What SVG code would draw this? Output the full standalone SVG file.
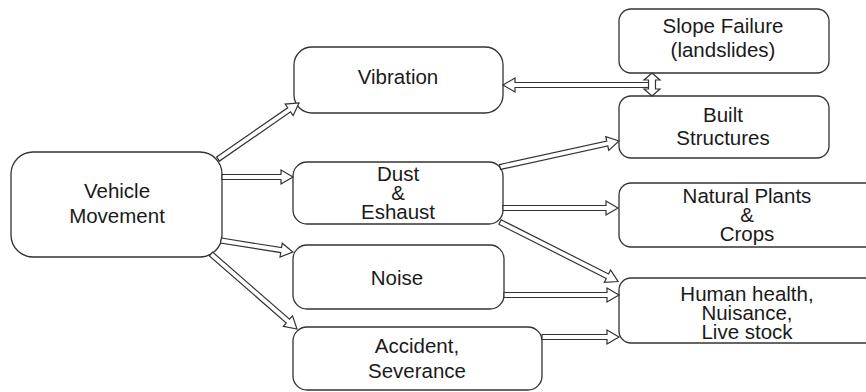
<svg xmlns="http://www.w3.org/2000/svg" width="866" height="392" viewBox="0 0 866 392">
<style>
.box{fill:#fff;stroke:#333;stroke-width:1.3}
.t{font-family:"Liberation Sans",Arial,sans-serif;font-size:20.5px;fill:#1a1a1a;text-anchor:middle}
.ar{fill:#fff;stroke:#333;stroke-width:1.2;stroke-linejoin:miter}
</style>
<rect width="866" height="392" fill="#fff"/>
<g id="n-vehicle"><rect class="box" x="11" y="152" width="211" height="105" rx="22"/><text class="t" x="117" y="198">Vehicle</text><text class="t" x="117" y="223">Movement</text></g>
<g id="n-vibration"><rect class="box" x="294" y="47" width="209" height="66" rx="18"/><text class="t" x="398" y="84">Vibration</text></g>
<g id="n-dust"><rect class="box" x="293" y="162" width="210" height="62" rx="14"/><text class="t" x="398" y="181">Dust</text><text class="t" x="398" y="200">&amp;</text><text class="t" x="398" y="219">Eshaust</text></g>
<g id="n-noise"><rect class="box" x="293" y="245" width="211" height="64" rx="14"/><text class="t" x="397" y="285">Noise</text></g>
<g id="n-accident"><rect class="box" x="293" y="327" width="249" height="63" rx="14"/><text class="t" x="417" y="353">Accident,</text><text class="t" x="417" y="378">Severance</text></g>
<g id="n-slope"><rect class="box" x="619" y="9" width="210" height="64" rx="12"/><text class="t" x="723" y="33">Slope Failure</text><text class="t" x="723" y="57">(landslides)</text></g>
<g id="n-built"><rect class="box" x="619" y="96" width="210" height="62" rx="12"/><text class="t" x="723" y="122">Built</text><text class="t" x="723" y="145">Structures</text></g>
<g id="n-plants"><rect class="box" x="619" y="183" width="260" height="64" rx="12"/><text class="t" x="747" y="203">Natural Plants</text><text class="t" x="747" y="222">&amp;</text><text class="t" x="747" y="241">Crops</text></g>
<g id="n-human"><rect class="box" x="619" y="278" width="260" height="65" rx="12"/><text class="t" x="747" y="301">Human health,</text><text class="t" x="747" y="320">Nuisance,</text><text class="t" x="747" y="339">Live stock</text></g>
<g id="connectors">
<path class="ar" transform="translate(218,159) rotate(-34.66)" d="M0,-2.5 H86.5 V-7 L98.5,0 L86.5,7 V2.5 H0 Z"/>
<path class="ar" transform="translate(222,177)" d="M0,-2.5 H59 V-7 L71,0 L59,7 V2.5 H0 Z"/>
<path class="ar" transform="translate(221,240.5) rotate(9.07)" d="M0,-2.5 H60.9 V-7 L72.9,0 L60.9,7 V2.5 H0 Z"/>
<path class="ar" transform="translate(211,254) rotate(41.1)" d="M0,-2.5 H102.1 V-7 L114.1,0 L102.1,7 V2.5 H0 Z"/>
<path class="ar" transform="translate(500,167) rotate(-12.32)" d="M0,-2.5 H109.8 V-7 L121.8,0 L109.8,7 V2.5 H0 Z"/>
<path class="ar" transform="translate(503,208)" d="M0,-2.5 H103 V-7 L115,0 L103,7 V2.5 H0 Z"/>
<path class="ar" transform="translate(500,222) rotate(26.76)" d="M0,-2.5 H120.3 V-7 L132.3,0 L120.3,7 V2.5 H0 Z"/>
<path class="ar" transform="translate(504,295)" d="M0,-2.5 H103 V-7 L115,0 L103,7 V2.5 H0 Z"/>
<path class="ar" transform="translate(542,337)" d="M0,-2.5 H65 V-7 L77,0 L65,7 V2.5 H0 Z"/>
<path class="ar" transform="translate(650,85) rotate(180)" d="M0,-2.5 H135 V-7 L147,0 L135,7 V2.5 H0 Z"/>
<path class="ar" d="M652,73 L660,80 L655.5,80 L655.5,89 L660,89 L652,96 L644,89 L648.5,89 L648.5,80 L644,80 Z"/>
</g>
</svg>
